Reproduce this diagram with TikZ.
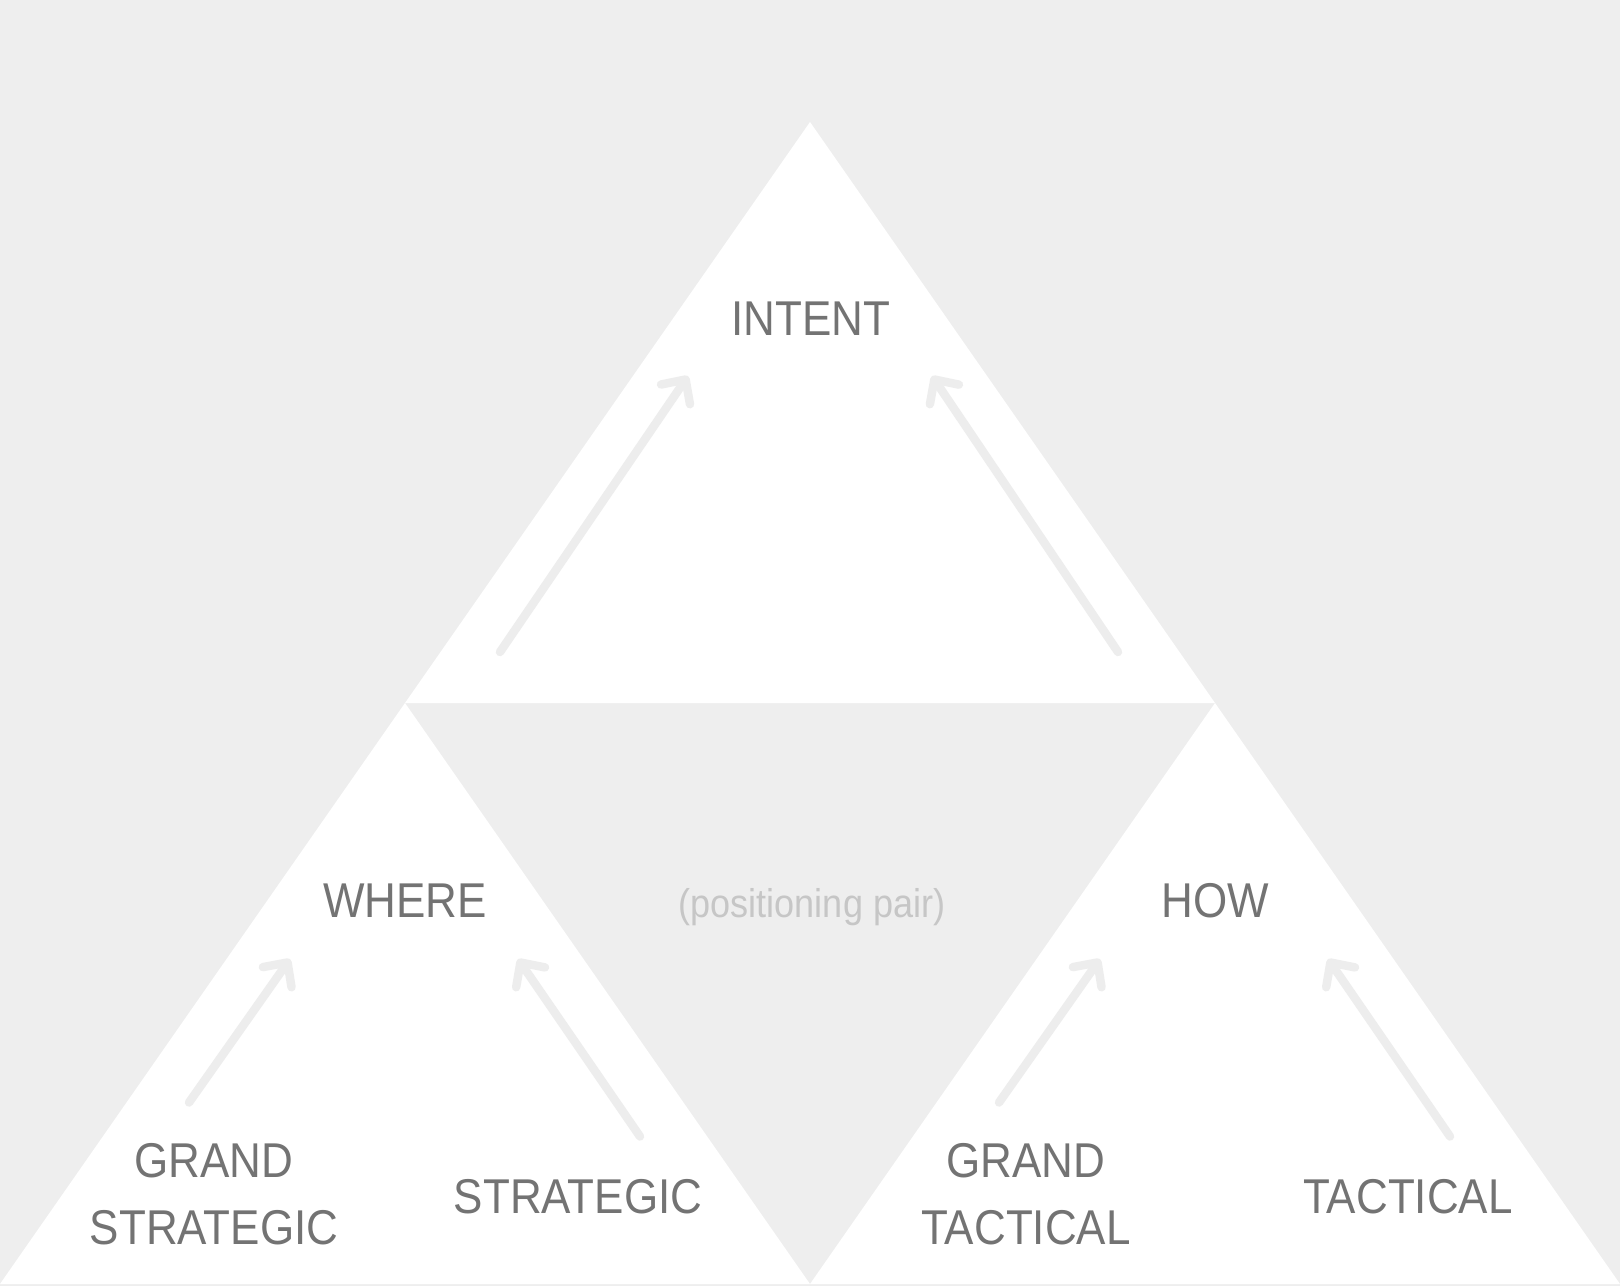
\documentclass[tikz,border=0pt]{standalone}
\usepackage{fontspec}
\setmainfont{Liberation Sans}[FakeStretch=0.9]
\usetikzlibrary{arrows.meta}
\definecolor{bgGray}{HTML}{EEEEEE}
\definecolor{txtGray}{HTML}{737373}
\definecolor{pairGray}{HTML}{C6C6C6}
\definecolor{arrGray}{HTML}{EDEDED}
\begin{document}
\begin{tikzpicture}[>={Straight Barb[length=1.8mm,width=3.5mm,line cap=round,line join=round]}, line join=round, line cap=round,
	lab/.style={text=txtGray,inner sep=0pt,align=center,font=\fontsize{13.9}{19}\selectfont},
	up/.style={->,draw=arrGray,line width=2.4pt}]
		%Background
		\fill[bgGray] (0,0) rectangle (16.2,12.86);
		\useasboundingbox (0,0) rectangle (16.2,12.86);
		%Triangles
		\fill[white] (8.1,11.64)--(4.05,5.83)--(12.15,5.83)--cycle;
		\fill[white] (4.05,5.83)--(0,0.02)--(8.1,0.02)--cycle;
		\fill[white] (12.15,5.83)--(8.1,0.02)--(16.2,0.02)--cycle;
		%Labels
		\node[lab,anchor=base] (intent) at (8.11,9.51) {INTENT};
		\node[lab,anchor=base] (where) at (4.05,3.685) {WHERE};
		\node[lab,anchor=base] (how) at (12.15,3.685) {HOW};
		\node[anchor=base,inner sep=0pt,text=pairGray,font=\fontsize{11.4}{14}\selectfont] (pair) at (8.12,3.685) {(positioning pair)};
		\node[lab] (gstrat) at (2.14,0.915) {GRAND\\STRATEGIC};
		\node[lab,anchor=base] (strat) at (5.78,0.73) {STRATEGIC};
		\node[lab] (gtact) at (10.26,0.915) {GRAND\\TACTICAL};
		\node[lab,anchor=base] (tact) at (14.08,0.73) {TACTICAL};
		%Arrows
		\coordinate (a1) at (5.00,6.34); \coordinate (a1t) at (6.88,9.10);
		\coordinate (a2) at (11.18,6.34); \coordinate (a2t) at (9.32,9.10);
		\coordinate (b1) at (1.89,1.835); \coordinate (b1t) at (2.90,3.27);
		\coordinate (b2) at (6.40,1.495); \coordinate (b2t) at (5.18,3.27);
		\coordinate (c1) at (9.99,1.835); \coordinate (c1t) at (11.00,3.27);
		\coordinate (c2) at (14.50,1.495); \coordinate (c2t) at (13.28,3.27);
		\draw[up] (a1)--(a1t);
		\draw[up] (a2)--(a2t);
		\draw[up] (b1)--(b1t);
		\draw[up] (b2)--(b2t);
		\draw[up] (c1)--(c1t);
		\draw[up] (c2)--(c2t);
\end{tikzpicture}
\end{document}
